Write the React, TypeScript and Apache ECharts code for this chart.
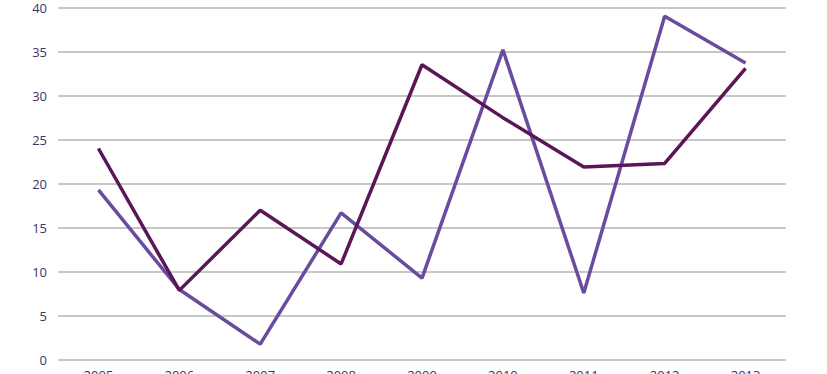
import React, { useEffect, useRef } from "react";
import * as echarts from "echarts";

const categories = ["2005", "2006", "2007", "2008", "2009", "2010", "2011", "2012", "2013"];
const seriesDark = [24.0, 7.9, 17.0, 10.9, 33.5, 27.5, 21.9, 22.3, 33.1];
const seriesLight = [19.3, 8.0, 1.8, 16.7, 9.3, 35.2, 7.6, 39.0, 33.7];
const yTicks = { min: 0, max: 40, interval: 5 };

export default function App() {
  const ref = useRef<HTMLDivElement>(null);
  useEffect(() => {
    document.body.style.margin = "0";
    const chart = echarts.init(ref.current!, null, { renderer: "svg" });
    chart.setOption({
      animation: false,
      grid: {
        left: 58,
        right: 41,
        top: 7.5,
        bottom: 14,
        containLabel: false,
        outerBoundsMode: "none",
      },
      xAxis: {
        type: "category",
        data: categories,
        boundaryGap: true,
        axisLine: { show: false },
        axisTick: { show: false },
        axisLabel: {
          color: "#3a3468",
          fontSize: 13,
          fontFamily: "Open Sans",
          margin: 8,
        },
      },
      yAxis: {
        type: "value",
        min: yTicks.min,
        max: yTicks.max,
        interval: yTicks.interval,
        axisLine: { show: false },
        axisTick: { show: false },
        axisLabel: {
          color: "#3a3468",
          fontSize: 13,
          fontFamily: "Open Sans",
          margin: 11,
        },
        splitLine: { lineStyle: { color: "#b4b4b4", width: 1.5 } },
      },
      series: [
        {
          type: "line",
          data: seriesLight,
          symbol: "none",
          lineStyle: { color: "#6a4c9e", width: 3.5 },
          z: 2,
        },
        {
          type: "line",
          data: seriesDark,
          symbol: "none",
          lineStyle: { color: "#5a1656", width: 3.5 },
          z: 3,
        },
      ],
    });
    return () => chart.dispose();
  }, []);
  return <div ref={ref} style={{ width: 827, height: 374 }} />;
}
